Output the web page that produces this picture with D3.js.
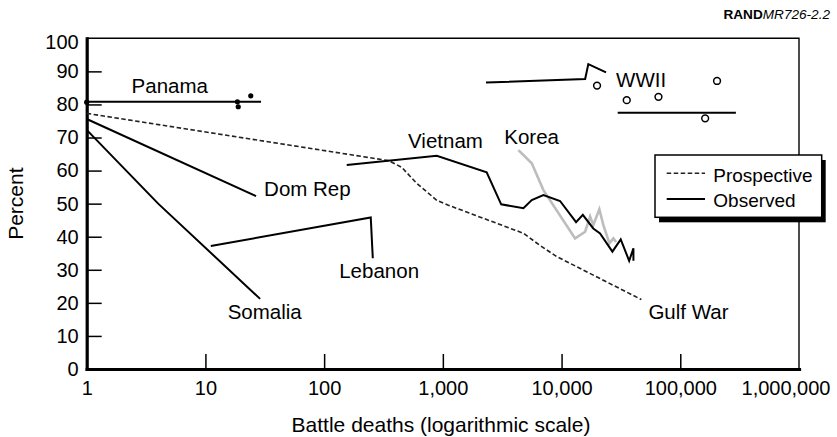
<!DOCTYPE html>
<html>
<head>
<meta charset="utf-8">
<script src="https://cdn.jsdelivr.net/npm/d3@7"></script>
<style>
  body { margin: 0; background: #fff; }
  svg { font-family: "Liberation Sans", Arial, Helvetica, sans-serif; }
</style>
</head>
<body>
<svg width="837" height="437"></svg>
<script>
// tick values
var xTicks = [1, 10, 100, 1000, 10000, 100000, 1000000];
var yTicks = [0, 10, 20, 30, 40, 50, 60, 70, 80, 90, 100];

// [battle deaths, percent]
var prospective = [[1, 77.3], [350, 63], [450, 61], [600, 56.2], [890, 51], [1100, 49.6],
  [4800, 41], [6500, 37.5], [9100, 34], [47000, 21]];
var panama = [[1, 80.8], [29.4, 80.8]];
var panamaDots = [[1, 80.7], [18.6, 80.8], [18.9, 79.3], [24.1, 82.6]];
var domRep = [[1, 75.6], [26.7, 52.3]];
var somalia = [[1, 72.3], [4, 50], [28.9, 21.2]];
var lebanon = [[11.1, 37.2], [247, 45.8], [257, 33.5]];
var vietnam = [[155, 61.7], [889, 64.5], [2340, 59.5], [3100, 49.8], [4770, 48.6], [5610, 51.1],
  [7030, 52.6], [9710, 50.8], [13250, 44.4], [15100, 46.6], [18500, 42.5], [21100, 41.0],
  [26800, 35.5], [31500, 39.2], [37100, 32.7], [40300, 36.5], [40300, 32.7]];
var korea = [[4330, 66.2], [5610, 62.2], [7030, 54.1], [13000, 39.5], [15800, 41.5], [17400, 46.1],
  [18500, 43.5], [20800, 48.3], [22500, 43.5], [25300, 38.0], [27300, 39.5], [28800, 38.4]];
var wwii = [[2310, 86.6], [15800, 87.7], [16800, 92.2], [23700, 89.7]];
var wwiiFlat = [[29700, 77.5], [294000, 77.5]];
var wwiiDots = [[19900, 85.7], [35400, 81.3], [65500, 82.3], [204000, 87.1], [162000, 75.8]];

var svg = d3.select("svg");

var x = d3.scaleLog().domain([1, 1000000]).range([86.7, 799]);
var y = d3.scaleLinear().domain([0, 100]).range([369, 38.3]);

var line = d3.line()
  .x(function(d) { return x(d[0]); })
  .y(function(d) { return y(d[1]); });

// frame (top + right thin)
svg.append("path")
  .attr("d", "M" + x(1) + "," + y(100) + "H" + x(1000000) + "V" + y(0))
  .attr("fill", "none").attr("stroke", "#000").attr("stroke-width", 1.4);

// axes, ticks point inward
var leftAxis = d3.axisLeft(y).tickValues(yTicks).tickSizeInner(-15).tickSizeOuter(0).tickPadding(8);
var bottomAxis = d3.axisBottom(x).tickValues(xTicks).tickSizeInner(-15).tickSizeOuter(0).tickPadding(12)
  .tickFormat(d3.format(","));

var gy = svg.append("g").attr("transform", "translate(" + x(1) + ",0)").call(leftAxis);
var gx = svg.append("g").attr("transform", "translate(0," + y(0) + ")").call(bottomAxis);
[gx, gy].forEach(function(g) {
  g.selectAll(".domain").attr("stroke-width", 3.2).attr("stroke-linecap", "square");
  g.selectAll(".tick line").attr("stroke-width", 1.5);
  g.selectAll(".tick text").attr("font-size", 20).attr("font-family", "Liberation Sans, Arial, sans-serif").attr("fill", "#000");
});
// first/last ticks sit on the frame, drop their tick lines
gx.selectAll(".tick line").filter(function(d) { return d == 1 || d == 1000000; }).remove();
gy.selectAll(".tick line").filter(function(d) { return d == 0 || d == 100; }).remove();
// last x label is pulled in so it fits
gx.selectAll(".tick text").filter(function(d) { return d == 1000000; })
  .attr("text-anchor", "end").attr("x", 31);
gy.selectAll(".tick text").filter(function(d) { return d == 100; }).attr("y", 4);

// prospective (dashed)
svg.append("path").datum(prospective).attr("d", line)
  .attr("fill", "none").attr("stroke", "#222").attr("stroke-width", 1.6).attr("stroke-dasharray", "4.5,2.5");

// korea in grey
svg.append("path").datum(korea).attr("d", line)
  .attr("fill", "none").attr("stroke", "#bdbdbd").attr("stroke-width", 2.6);

// observed lines
[panama, domRep, somalia, lebanon, vietnam, wwii, wwiiFlat].forEach(function(s) {
  svg.append("path").datum(s).attr("d", line)
    .attr("fill", "none").attr("stroke", "#000").attr("stroke-width", 2);
});

svg.selectAll(".pdot").data(panamaDots).enter().append("circle")
  .attr("cx", function(d) { return x(d[0]); })
  .attr("cy", function(d) { return y(d[1]); })
  .attr("r", 2.6).attr("fill", "#000");

svg.selectAll(".wdot").data(wwiiDots).enter().append("circle")
  .attr("cx", function(d) { return x(d[0]); })
  .attr("cy", function(d) { return y(d[1]); })
  .attr("r", 3.4).attr("fill", "#fff").attr("stroke", "#000").attr("stroke-width", 1.5);

// series labels
var labels = [
  ["Panama", 2.39, 83.5], ["Dom Rep", 31.2, 52.3], ["Vietnam", 509, 66.7], ["Korea", 3290, 68],
  ["WWII", 28800, 85.2], ["Lebanon", 134, 27.4], ["Somalia", 15.4, 15.1], ["Gulf War", 53900, 15.1]
];
svg.selectAll(".lab").data(labels).enter().append("text")
  .attr("x", function(d) { return x(d[1]); })
  .attr("y", function(d) { return y(d[2]); })
  .attr("font-size", 20.5)
  .text(function(d) { return d[0]; });

// axis titles
svg.append("text").attr("x", 441).attr("y", 432).attr("text-anchor", "middle")
  .attr("font-size", 21).text("Battle deaths (logarithmic scale)");
svg.append("text").attr("transform", "translate(23," + (y(50)) + ") rotate(-90)")
  .attr("text-anchor", "middle").attr("font-size", 21).text("Percent");

// RAND tag
var tag = svg.append("text").attr("x", 830).attr("y", 19).attr("text-anchor", "end").attr("font-size", 13.6);
tag.append("tspan").attr("font-weight", "bold").text("RAND");
tag.append("tspan").attr("font-style", "italic").text("MR726-2.2");

// legend with drop shadow
var lg = svg.append("g");
lg.append("rect").attr("x", 659).attr("y", 160).attr("width", 166.7).attr("height", 62.3).attr("fill", "#000");
lg.append("rect").attr("x", 655).attr("y", 155).attr("width", 166.7).attr("height", 62.3)
  .attr("fill", "#fff").attr("stroke", "#000").attr("stroke-width", 1.5);
lg.append("line").attr("x1", 666.7).attr("x2", 705).attr("y1", 173.3).attr("y2", 173.3)
  .attr("stroke", "#222").attr("stroke-width", 1.6).attr("stroke-dasharray", "4.5,2.5");
lg.append("line").attr("x1", 666.7).attr("x2", 705).attr("y1", 199).attr("y2", 199)
  .attr("stroke", "#000").attr("stroke-width", 2);
lg.append("text").attr("x", 713.3).attr("y", 181.5).attr("font-size", 19).text("Prospective");
lg.append("text").attr("x", 713.3).attr("y", 206.5).attr("font-size", 19).text("Observed");
</script>
</body>
</html>
